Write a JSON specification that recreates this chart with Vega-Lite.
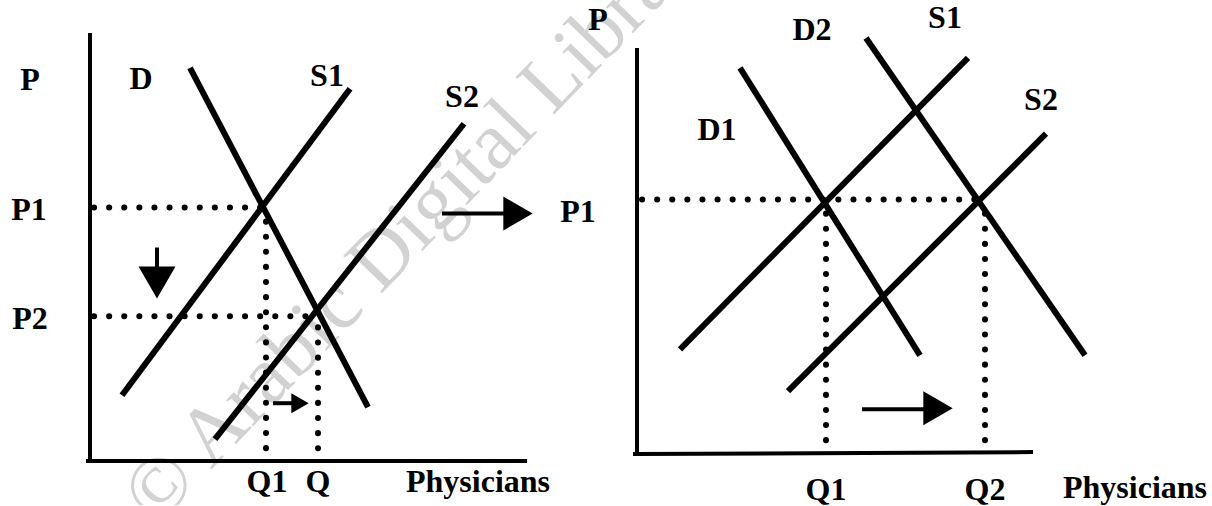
{
  "$schema": "https://vega.github.io/schema/vega-lite/v6.json",
  "width": 1212,
  "height": 506,
  "padding": 0,
  "autosize": {"type": "fit", "contains": "padding"},
  "background": "white",
  "config": {"view": {"stroke": null}},
  "datasets": {
    "axes": [
      {"id": "L-y", "k": 0, "x": 90, "y": 35},
      {"id": "L-y", "k": 1, "x": 90, "y": 462},
      {"id": "L-x", "k": 0, "x": 88, "y": 462},
      {"id": "L-x", "k": 1, "x": 525, "y": 462},
      {"id": "R-y", "k": 0, "x": 637, "y": 50},
      {"id": "R-y", "k": 1, "x": 637, "y": 455},
      {"id": "R-x", "k": 0, "x": 635, "y": 455},
      {"id": "R-x", "k": 1, "x": 1031, "y": 453}
    ],
    "curves": [
      {"id": "L-D", "k": 0, "x": 190, "y": 68},
      {"id": "L-D", "k": 1, "x": 368, "y": 408},
      {"id": "L-S1", "k": 0, "x": 122, "y": 396},
      {"id": "L-S1", "k": 1, "x": 350, "y": 89},
      {"id": "L-S2", "k": 0, "x": 215, "y": 440},
      {"id": "L-S2", "k": 1, "x": 464, "y": 124},
      {"id": "R-D1", "k": 0, "x": 740, "y": 68},
      {"id": "R-D1", "k": 1, "x": 920, "y": 356},
      {"id": "R-D2", "k": 0, "x": 866, "y": 38},
      {"id": "R-D2", "k": 1, "x": 1085, "y": 356},
      {"id": "R-S1", "k": 0, "x": 680, "y": 350},
      {"id": "R-S1", "k": 1, "x": 968, "y": 58},
      {"id": "R-S2", "k": 0, "x": 788, "y": 392},
      {"id": "R-S2", "k": 1, "x": 1046, "y": 134}
    ],
    "dots": [
      {"id": "L-P1", "k": 0, "x": 94, "y": 208},
      {"id": "L-P1", "k": 1, "x": 262, "y": 208},
      {"id": "L-P2", "k": 0, "x": 94, "y": 317},
      {"id": "L-P2", "k": 1, "x": 316, "y": 317},
      {"id": "L-Q1", "k": 0, "x": 266, "y": 222},
      {"id": "L-Q1", "k": 1, "x": 266, "y": 460},
      {"id": "L-Q", "k": 0, "x": 318, "y": 328},
      {"id": "L-Q", "k": 1, "x": 318, "y": 460},
      {"id": "R-P1", "k": 0, "x": 642, "y": 200},
      {"id": "R-P1", "k": 1, "x": 978, "y": 200},
      {"id": "R-Q1", "k": 0, "x": 826, "y": 214},
      {"id": "R-Q1", "k": 1, "x": 826, "y": 452},
      {"id": "R-Q2", "k": 0, "x": 985, "y": 214},
      {"id": "R-Q2", "k": 1, "x": 985, "y": 450}
    ],
    "shafts": [
      {"id": "down", "k": 0, "x": 157, "y": 248},
      {"id": "down", "k": 1, "x": 157, "y": 272},
      {"id": "small", "k": 0, "x": 273, "y": 404},
      {"id": "small", "k": 1, "x": 292, "y": 404},
      {"id": "mid", "k": 0, "x": 442, "y": 214},
      {"id": "mid", "k": 1, "x": 506, "y": 214},
      {"id": "bottom", "k": 0, "x": 862, "y": 410},
      {"id": "bottom", "k": 1, "x": 925, "y": 410}
    ],
    "headsDown": [{"x": 157, "y": 283}],
    "headsRightBig": [{"x": 518, "y": 214}, {"x": 938, "y": 409}],
    "headsRightSmall": [{"x": 300, "y": 404}],
    "labels": [
      {"t": "P", "x": 30, "y": 80},
      {"t": "D", "x": 141, "y": 79},
      {"t": "S1", "x": 327, "y": 76},
      {"t": "S2", "x": 462, "y": 97},
      {"t": "P1", "x": 29, "y": 210},
      {"t": "P2", "x": 30, "y": 320},
      {"t": "Q1", "x": 267, "y": 483},
      {"t": "Q", "x": 318, "y": 483},
      {"t": "Physicians", "x": 478, "y": 483},
      {"t": "P", "x": 598, "y": 20},
      {"t": "D2", "x": 812, "y": 30},
      {"t": "S1", "x": 945, "y": 18},
      {"t": "D1", "x": 717, "y": 130},
      {"t": "S2", "x": 1041, "y": 100},
      {"t": "P1", "x": 578, "y": 212},
      {"t": "Q1", "x": 826, "y": 491},
      {"t": "Q2", "x": 985, "y": 491},
      {"t": "Physicians", "x": 1135, "y": 489}
    ],
    "watermark": [{"t": "© Arabic Digital Library", "x": 422, "y": 216}]
  },
  "encoding": {
    "x": {"field": "x", "type": "quantitative", "scale": {"domain": [0, 1212], "nice": false, "zero": false}, "axis": null},
    "y": {"field": "y", "type": "quantitative", "scale": {"domain": [0, 506], "nice": false, "zero": false, "reverse": true}, "axis": null}
  },
  "layer": [
    {
      "data": {"name": "watermark"},
      "mark": {"type": "text", "clip": true, "angle": 314, "fontSize": 82, "font": "Liberation Serif", "fill": "#d2d2d2", "align": "center", "baseline": "middle"},
      "encoding": {"text": {"field": "t"}}
    },
    {
      "data": {"name": "axes"},
      "mark": {"type": "line", "color": "black", "strokeWidth": 4, "strokeCap": "square"},
      "encoding": {"detail": {"field": "id"}, "order": {"field": "k"}}
    },
    {
      "data": {"name": "curves"},
      "mark": {"type": "line", "color": "black", "strokeWidth": 6, "strokeCap": "butt"},
      "encoding": {"detail": {"field": "id"}, "order": {"field": "k"}}
    },
    {
      "data": {"name": "dots"},
      "mark": {"type": "line", "color": "black", "strokeWidth": 6, "strokeCap": "round", "strokeDash": [0.1, 15]},
      "encoding": {"detail": {"field": "id"}, "order": {"field": "k"}}
    },
    {
      "data": {"name": "shafts"},
      "mark": {"type": "line", "color": "black", "strokeWidth": 4, "strokeCap": "butt"},
      "encoding": {"detail": {"field": "id"}, "order": {"field": "k"}}
    },
    {
      "data": {"name": "headsDown"},
      "mark": {"type": "point", "shape": "triangle-down", "filled": true, "color": "black", "opacity": 1, "size": 1369}
    },
    {
      "data": {"name": "headsRightBig"},
      "mark": {"type": "point", "shape": "triangle-right", "filled": true, "color": "black", "opacity": 1, "size": 1150}
    },
    {
      "data": {"name": "headsRightSmall"},
      "mark": {"type": "point", "shape": "triangle-right", "filled": true, "color": "black", "opacity": 1, "size": 400}
    },
    {
      "data": {"name": "labels"},
      "mark": {"type": "text", "font": "Liberation Serif", "fontWeight": "bold", "fontSize": 32, "color": "black", "align": "center", "baseline": "middle"},
      "encoding": {"text": {"field": "t"}}
    }
  ]
}
